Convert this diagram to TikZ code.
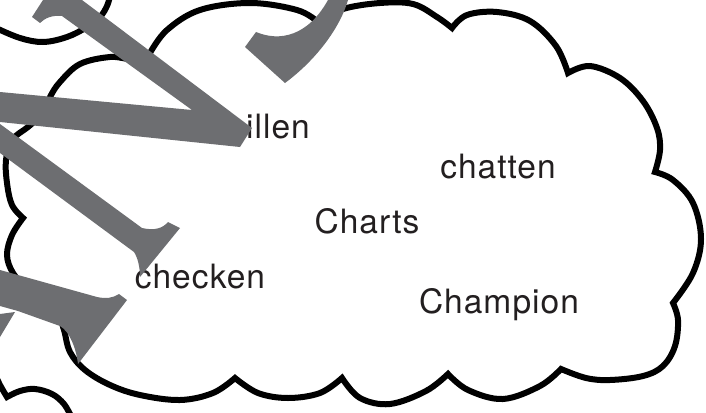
\documentclass[tikz,border=0pt]{standalone}
\usepackage{fontspec}
\setmainfont{TeX Gyre Heros}[LetterSpace=3]
\definecolor{lettergrey}{RGB}{109,110,113}
\definecolor{inkdark}{RGB}{35,31,32}
\tikzset{
  cloudline/.style={draw=black, line width=6pt, line join=miter, miter limit=6},
  word/.style={inner sep=0pt, text=inkdark, font=\fontsize{33.5}{40}\selectfont},
  bigletter/.style={fill=lettergrey}
}
\begin{document}
\begin{tikzpicture}[x=1pt,y=-1pt]
\useasboundingbox (0,0) rectangle (706,412);
\fill[white] (0,0) rectangle (706,412);
\clip (0,0) rectangle (706,412);

% small cloud pieces
\draw[cloudline] plot[smooth, tension=0.6] coordinates {(-4,28) (20,38) (43,42) (67,37) (87,27) (100,17) (107,6) (110,-4)};
\draw[cloudline] plot[smooth, tension=0.6] coordinates {(-6,372) (0,385) (7,397)}
  -- plot[smooth, tension=0.6] coordinates {(7,397) (20,391) (35,389) (52,394) (64,404) (72,418)};

% main cloud
\draw[cloudline]
  plot[smooth, tension=0.6] coordinates {(42,115) (50,97) (60,82) (80,64) (110,57) (132,59) (150,53)}
  -- plot[smooth, tension=0.6] coordinates {(150,53) (167,30) (200,10) (250,3) (297,10) (318,22)}
  -- plot[smooth, tension=0.6] coordinates {(318,22) (343,9) (380,3) (413,4) (437,17) (452,28)}
  -- plot[smooth, tension=0.6] coordinates {(452,28) (467,15) (497,12) (530,21) (556,46) (568,73)}
  -- plot[smooth, tension=0.6] coordinates {(568,73) (590,66) (620,78) (643,101) (657,128) (660,150) (655,172)}
  -- plot[smooth, tension=0.6] coordinates {(655,172) (673,180) (693,203) (701,239) (693,273) (673,303)}
  -- plot[smooth, tension=0.6] coordinates {(673,303) (678,320) (675,346) (663,366) (643,376) (610,380) (586,378) (561,369)}
  -- plot[smooth, tension=0.6] coordinates {(561,369) (540,386) (503,399) (468,390) (448,374)}
  -- plot[smooth, tension=0.6] coordinates {(448,374) (426,391) (390,404) (360,398) (342,378)}
  -- plot[smooth, tension=0.6] coordinates {(342,378) (320,393) (288,398) (258,393) (235,378)}
  -- plot[smooth, tension=0.6] coordinates {(235,378) (213,393) (180,400) (140,395) (110,385) (85,370) (70,352) (64,330) (58,315) (45,305)}
  -- plot[smooth, tension=0.6] coordinates {(45,305) (28,290) (13,273) (7,255) (12,235) (23,218)}
  -- plot[smooth, tension=0.6] coordinates {(23,218) (12,205) (7,183) (6,160) (12,140) (28,127) (42,115)}
  -- cycle;

% words
\node[word, anchor=base east] (w1) at (310,138) {chillen};
\node[word, anchor=base] (w2) at (498,178) {chatten};
\node[word, anchor=base] (w3) at (367,233) {Charts};
\node[word, anchor=base] (w4) at (200,288) {checken};
\node[word, anchor=base] (w5) at (499,313) {Champion};

% big grey letter pieces
\fill[bigletter] (43,0) -- (82,0) -- (252,128) -- (240,147) -- (0,122) -- (0,92) -- (192,110) -- (62,16)
  .. controls (52,15) and (45,18) .. (40,23) -- (32,17) -- cycle;
\fill[bigletter] (0,124) -- (142,228) .. controls (155,231) and (163,228) .. (168,222) -- (180,228)
  -- (140,277) .. controls (140,268) and (138,258) .. (134,252) -- (0,153) -- cycle;
\fill[bigletter] (0,270) -- (97,297) .. controls (106,299) and (113,298) .. (119,294) -- (127,300)
  -- (78,364) .. controls (76,348) and (70,332) .. (60,326) -- (18,311) -- (0,306) -- cycle;
\fill[bigletter] (0,314) -- (15,312) -- (0,337) -- cycle;
\fill[bigletter] (348,0) .. controls (340,28) and (316,60) .. (285,83) -- (245,47) -- (256,32)
  .. controls (280,42) and (308,36) .. (328,0) -- cycle;
\end{tikzpicture}
\end{document}
